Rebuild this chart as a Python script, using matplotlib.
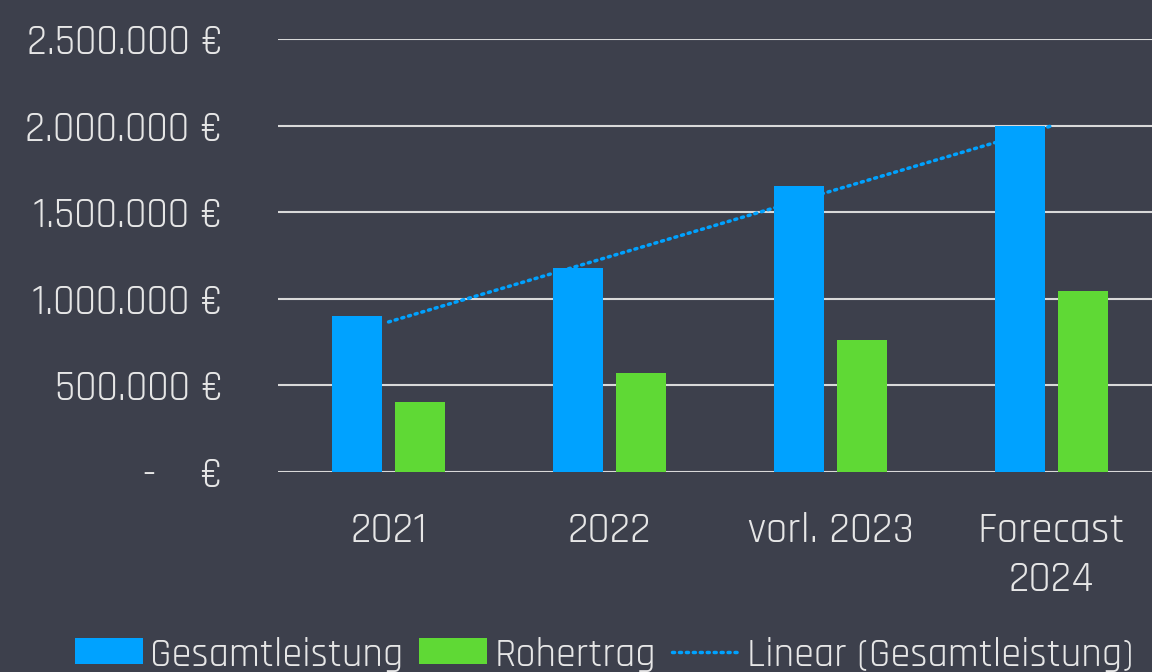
import matplotlib
matplotlib.use('Agg')
import matplotlib.pyplot as plt
from matplotlib.patches import Patch
from matplotlib.lines import Line2D
import numpy as np

categories = ['2021', '2022', 'vorl. 2023', 'Forecast\n2024']
gesamtleistung = [900000, 1178000, 1651000, 2000000]
rohertrag = [405000, 572000, 762000, 1045000]
yTicks = [0, 500000, 1000000, 1500000, 2000000, 2500000]
yTickLabels = ['-    €', '500.000 €', '1.000.000 €', '1.500.000 €', '2.000.000 €', '2.500.000 €']

bgColor = '#3d404c'
textColor = '#e6e6e6'
blueColor = '#00a2ff'
greenColor = '#5fd935'

plt.rcParams['font.family'] = ['Rajdhani', 'DejaVu Sans']
plt.rcParams['font.weight'] = 400

fig = plt.figure(figsize=(11.52, 6.72), dpi=100)
fig.patch.set_facecolor(bgColor)
ax = fig.add_axes([278/1152, 1 - 472/672, 884/1152, 433/672])
ax.set_facecolor(bgColor)

x = np.arange(len(categories))
barWidth = 0.224
offset = 0.1425

ax.bar(x - offset, gesamtleistung, barWidth, color=blueColor, zorder=3)
ax.bar(x + offset, rohertrag, barWidth, color=greenColor, zorder=3)

# linear trend of Gesamtleistung
slope, intercept = np.polyfit(x, gesamtleistung, 1)
ax.plot(x, slope*x + intercept, color=blueColor, linewidth=2.5,
        linestyle=(0, (0.6, 1.4)), dash_capstyle='round', zorder=4)

ax.set_xlim(-0.5, len(categories) - 0.5)
ax.set_ylim(0, 2500000)
ax.set_yticks(yTicks)
ax.set_yticklabels(yTickLabels)
ax.set_xticks(x)
ax.set_xticklabels(categories, linespacing=1.43)
ax.grid(axis='y', color='#d9d9d9', linewidth=1.5, zorder=1)
ax.set_axisbelow(True)
for spine in ax.spines.values():
    spine.set_visible(False)
ax.tick_params(axis='y', length=0, pad=40, labelsize=30, labelcolor=textColor)
ax.tick_params(axis='x', length=0, pad=29, labelsize=31, labelcolor=textColor)

handles = [
    Patch(facecolor=blueColor, label='Gesamtleistung'),
    Patch(facecolor=greenColor, label='Rohertrag'),
    Line2D([], [], color=blueColor, linewidth=2.5, linestyle=(0, (0.6, 1.4)),
           dash_capstyle='round', label='Linear (Gesamtleistung)'),
]
fig.legend(handles=handles, loc='center left', bbox_to_anchor=(75/1152, 1 - 654/672), ncol=3,
           frameon=False, fontsize=29, labelcolor=textColor, borderpad=0, borderaxespad=0,
           handlelength=1.69, handleheight=0.62, handletextpad=0.17, columnspacing=0.4)

fig.savefig('out.png', dpi=100, facecolor=bgColor)
